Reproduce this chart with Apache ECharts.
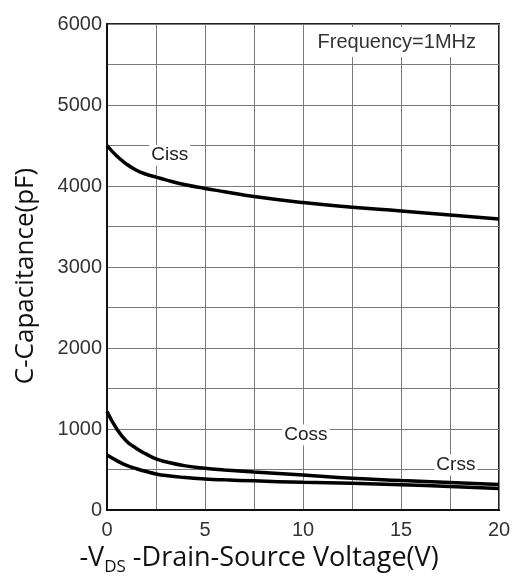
<!DOCTYPE html>
<html>
<head>
<meta charset="utf-8">
<script src="https://cdn.jsdelivr.net/npm/echarts@6/dist/echarts.min.js"></script>
<style>
  html, body { margin: 0; padding: 0; background: #fff; }
  #chart { width: 512px; height: 581px; }
</style>
</head>
<body>
<div id="chart"></div>
<script>
// Drain-source voltage (V) sample points
const vds = [0, 0.5, 1, 1.5, 2, 2.5, 3, 4, 5, 6, 7.5, 10, 12.5, 15, 17.5, 20];
// Capacitance curves (pF)
const ciss = [4500, 4370, 4270, 4195, 4145, 4110, 4075, 4015, 3970, 3930, 3870, 3795, 3738, 3692, 3642, 3593];
const coss = [1215, 1000, 850, 760, 690, 630, 595, 545, 515, 495, 470, 432, 392, 365, 340, 315];
const crss = [680, 610, 550, 510, 475, 445, 425, 400, 383, 372, 360, 342, 330, 312, 290, 265];
// Axis tick labels
const xTicks = [0, 5, 10, 15, 20];
const yTicks = [0, 1000, 2000, 3000, 4000, 5000, 6000];
// Curve name labels placed in data coordinates
const curveLabels = [
  { name: 'Ciss', at: [3.2, 4380] },
  { name: 'Coss', at: [10.15, 926] },
  { name: 'Crss', at: [17.8, 556] }
];

const pairs = ys => vds.map((v, i) => [v, ys[i]]);

const chart = echarts.init(document.getElementById('chart'), null, { renderer: 'canvas' });

const lineSeries = (name, ys, labelIdx) => ({
  name: name,
  type: 'line',
  data: pairs(ys),
  smooth: true,
  showSymbol: false,
  lineStyle: { color: '#000', width: 3.5 },
  z: 3,
  markPoint: {
    symbol: 'circle',
    symbolSize: 1,
    itemStyle: { color: 'rgba(0,0,0,0)' },
    label: {
      show: true,
      position: 'inside',
      formatter: curveLabels[labelIdx].name,
      color: '#222',
      fontFamily: 'Liberation Sans, Arial, sans-serif',
      fontSize: 19,
      backgroundColor: '#fff',
      padding: [1, 2]
    },
    data: [{ coord: curveLabels[labelIdx].at }]
  }
});

chart.setOption({
  animation: false,
  backgroundColor: '#fff',
  title: {
    text: 'Frequency=1MHz',
    right: 24,
    top: 27,
    backgroundColor: '#fff',
    padding: [5, 12],
    textStyle: {
      fontFamily: 'Liberation Sans, Arial, sans-serif',
      fontSize: 20,
      fontWeight: 'normal',
      color: '#333'
    }
  },
  grid: {
    left: 107,
    right: 13,
    top: 24,
    bottom: 71,
    outerBoundsMode: 'none',
    containLabel: false,
    show: true,
    borderColor: '#222',
    borderWidth: 2
  },
  xAxis: {
    type: 'value',
    min: 0,
    max: 20,
    interval: 2.5,
    name: '{n|-V}{s|DS}{n| -Drain-Source Voltage(V)}',
    nameLocation: 'middle',
    nameGap: 27,
    nameTextStyle: {
      padding: [0, 88, 0, 0],
      rich: {
        n: { fontFamily: 'Open Sans, Noto Sans, sans-serif', fontSize: 27, color: '#111', verticalAlign: 'bottom' },
        s: { fontFamily: 'Open Sans, Noto Sans, sans-serif', fontSize: 17, color: '#111', verticalAlign: 'bottom', padding: [0, 0, -4, 0] }
      }
    },
    axisLine: { show: true, lineStyle: { color: '#111', width: 2 } },
    axisTick: { show: false },
    axisLabel: {
      margin: 10,
      fontFamily: 'Liberation Sans, Arial, sans-serif',
      fontSize: 20,
      color: '#333',
      formatter: v => (xTicks.indexOf(v) >= 0 ? String(v) : '')
    },
    splitLine: { show: true, lineStyle: { color: '#7a7a7a', width: 1 } }
  },
  yAxis: {
    type: 'value',
    min: 0,
    max: 6000,
    interval: 500,
    name: 'C-Capacitance(pF)',
    nameLocation: 'middle',
    nameGap: 68,
    nameTextStyle: {
      fontFamily: 'Open Sans, Noto Sans, sans-serif',
      fontSize: 26,
      color: '#111',
      padding: [0, 18, 0, 0]
    },
    axisLine: { show: true, lineStyle: { color: '#111', width: 2 } },
    axisTick: { show: false },
    axisLabel: {
      margin: 5,
      fontFamily: 'Liberation Sans, Arial, sans-serif',
      fontSize: 20,
      color: '#333',
      formatter: v => (yTicks.indexOf(v) >= 0 ? String(v) : '')
    },
    splitLine: { show: true, lineStyle: { color: '#7a7a7a', width: 1 } }
  },
  series: [
    lineSeries('Ciss', ciss, 0),
    lineSeries('Coss', coss, 1),
    lineSeries('Crss', crss, 2)
  ]
});
</script>
</body>
</html>
